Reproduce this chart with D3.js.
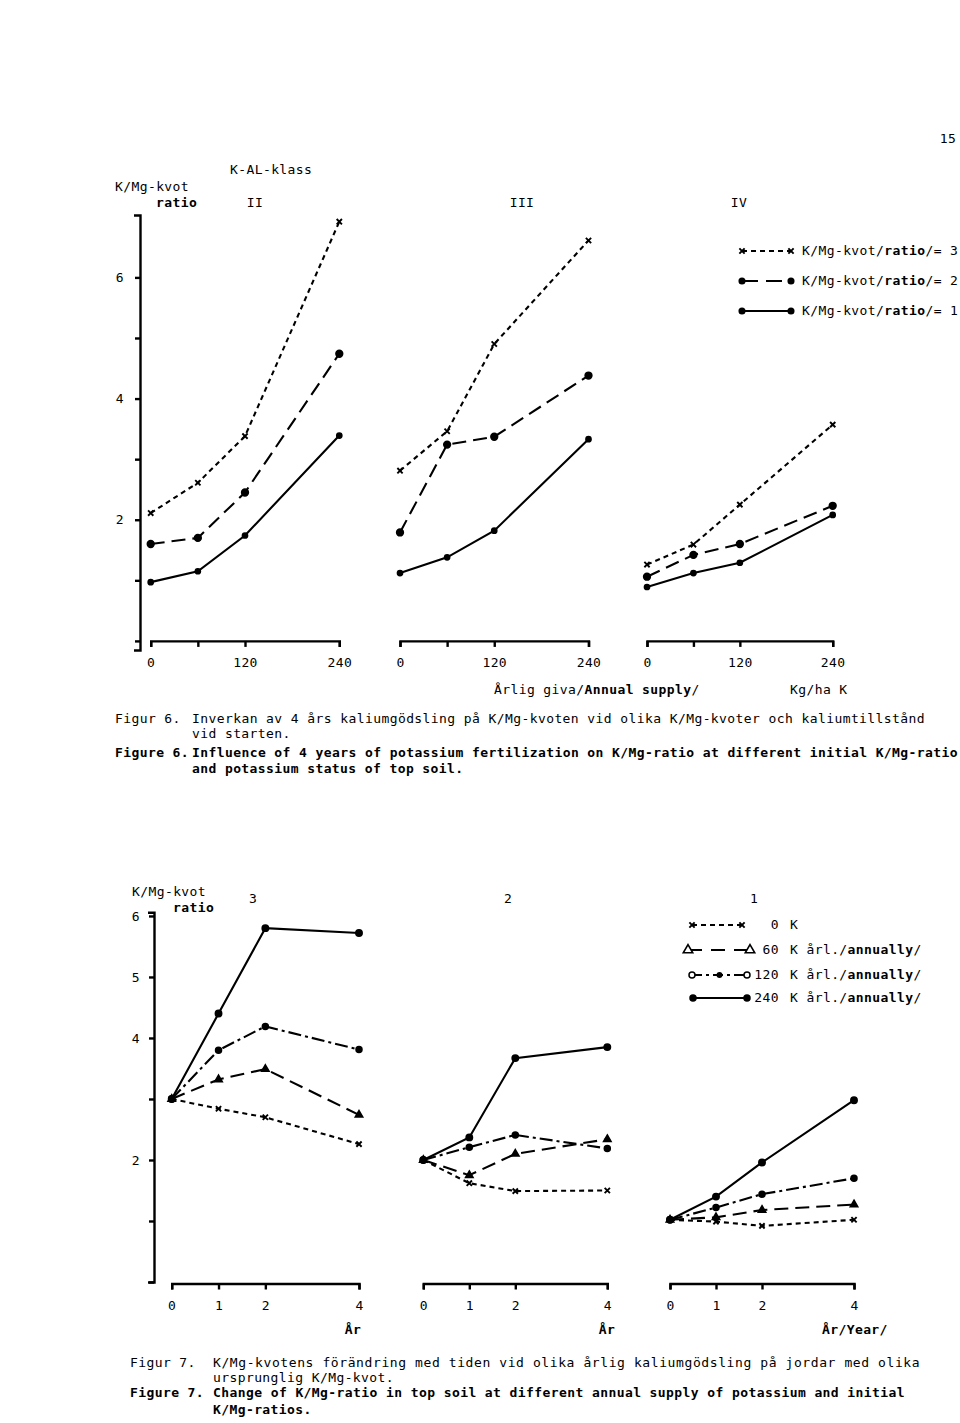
<!DOCTYPE html>
<html>
<head>
<meta charset="utf-8">
<script src="https://cdn.jsdelivr.net/npm/d3@7"></script>
<style>
body { margin: 0; background: #fff; }
text { font-family: "DejaVu Sans Mono", monospace; font-size: 13px; letter-spacing: 0.4px; fill: #000; }
</style>
</head>
<body>
<script>
var w = 960;
var h = 1423;

// Figur 6: K/Mg-kvot after 4 years, per K-AL-klass, x = annual K supply (kg/ha)
var supply = [0, 60, 120, 240];
var supplyLabels = [0, 120, 240];
var klass = ["II", "III", "IV"];
var ratio3 = [[2.11, 2.61, 3.38, 6.92], [2.81, 3.46, 4.90, 6.61], [1.26, 1.59, 2.25, 3.57]];
var ratio2 = [[1.60, 1.70, 2.45, 4.74], [1.79, 3.24, 3.37, 4.38], [1.06, 1.42, 1.60, 2.23]];
var ratio1 = [[0.97, 1.15, 1.74, 3.39], [1.12, 1.38, 1.82, 3.33], [0.89, 1.12, 1.29, 2.08]];
var fig6Ticks = [0, 1, 2, 3, 4, 5, 6];
var fig6TickLabels = [2, 4, 6];

// Figur 7: K/Mg-kvot over time, per initial ratio, per annual K supply
var years = [0, 1, 2, 4];
var startRatio = ["3", "2", "1"];
var k0 = [[3.0, 2.84, 2.70, 2.26], [2.0, 1.62, 1.49, 1.50], [1.02, 0.99, 0.92, 1.02]];
var k60 = [[3.0, 3.32, 3.49, 2.74], [2.0, 1.75, 2.10, 2.34], [1.02, 1.06, 1.18, 1.27]];
var k120 = [[3.0, 3.80, 4.19, 3.81], [2.0, 2.21, 2.41, 2.19], [1.02, 1.22, 1.44, 1.70]];
var k240 = [[3.0, 4.40, 5.80, 5.72], [2.0, 2.37, 3.67, 3.85], [1.02, 1.40, 1.96, 2.98]];
var fig7Ticks = [0, 1, 2, 3, 4, 5, 6];
var fig7TickLabels = [2, 4, 5, 6];

var svg = d3.select("body").append("svg").attr("width", w).attr("height", h);
svg.append("rect").attr("width", w).attr("height", h).attr("fill", "#fff");

// text helper, parts = [[string, bold], ...]
function addText(x, y, parts, anchor) {
  var t = svg.append("text").attr("x", x).attr("y", y).attr("text-anchor", anchor || "start");
  if (typeof parts == "string") parts = [[parts, false]];
  parts.forEach(function(p) {
    t.append("tspan").attr("font-weight", p[1] ? "bold" : null).text(p[0]);
  });
  return t;
}

function marker(g, x, y, kind, r) {
  if (kind == "x") {
    g.append("path").attr("d", d3.symbol(d3.symbolTimes, r * r * 2.2)())
      .attr("transform", "translate(" + x + "," + y + ")")
      .attr("stroke", "#000").attr("stroke-width", 1.9).attr("fill", "none");
  } else if (kind == "tri" || kind == "otri") {
    g.append("path").attr("d", d3.symbol(d3.symbolTriangle, r * r * 3)())
      .attr("transform", "translate(" + x + "," + y + ")")
      .attr("fill", kind == "tri" ? "#000" : "#fff").attr("stroke", "#000").attr("stroke-width", 1.6);
  } else {
    g.append("circle").attr("cx", x).attr("cy", y).attr("r", r)
      .attr("fill", kind == "ring" ? "#fff" : "#000").attr("stroke", "#000").attr("stroke-width", 1.5);
  }
}

function series(g, xs, ys, xv, vals, dash, kind, r) {
  var line = d3.line().x(function(d, i) { return xs(xv[i]); }).y(function(d) { return ys(d); });
  g.append("path").datum(vals).attr("d", line)
    .attr("fill", "none").attr("stroke", "#000").attr("stroke-width", 2.1)
    .attr("stroke-dasharray", dash);
  vals.forEach(function(d, i) { marker(g, xs(xv[i]), ys(d), kind, r); });
}

function styleAxis(g, font, size) {
  g.selectAll(".domain").attr("stroke", "#000").attr("stroke-width", 2.4);
  g.selectAll(".tick line").attr("stroke", "#000").attr("stroke-width", 2.4);
  g.selectAll(".tick text").attr("font-family", font).attr("font-size", size).attr("fill", "#000");
}

// ---------- Figur 6 ----------
var y6 = d3.scaleLinear().domain([-0.15, 7.03]).range([650, 215]);
var x6 = [[150.7, 339.3], [400, 588.5], [647, 832.7]].map(function(r) {
  return d3.scaleLinear().domain([0, 240]).range(r);
});

var gy6 = svg.append("g").attr("transform", "translate(140,0)")
  .call(d3.axisLeft(y6).tickValues(fig6Ticks).tickSize(5).tickSizeOuter(6).tickPadding(11)
    .tickFormat(function(d) { return fig6TickLabels.indexOf(d) >= 0 ? d : ""; }));
styleAxis(gy6, "Liberation Sans, sans-serif", 13);

var f6 = svg.append("g");
klass.forEach(function(k, i) {
  var gx = svg.append("g").attr("transform", "translate(0," + y6(0) + ")")
    .call(d3.axisBottom(x6[i]).tickValues(supply).tickSize(6).tickSizeOuter(6).tickPadding(11)
      .tickFormat(function(d) { return supplyLabels.indexOf(d) >= 0 ? d : ""; }));
  styleAxis(gx, "Liberation Sans, sans-serif", 13);

  series(f6, x6[i], y6, supply, ratio1[i], null, "dot", 2.6);
  series(f6, x6[i], y6, supply, ratio2[i], "14,7", "dot", 3.4);
  series(f6, x6[i], y6, supply, ratio3[i], "5,4", "x", 3);
});

svg.append("text").attr("x", 948).attr("y", 143).attr("text-anchor", "middle")
  .attr("font-family", "Liberation Sans, sans-serif").attr("font-size", 17).attr("letter-spacing", 0).text("15");
addText(230, 174, "K-AL-klass");
addText(115, 191, "K/Mg-kvot");
addText(156, 207, [["ratio", true]]);
addText(255, 207, "II", "middle");
addText(522, 207, "III", "middle");
addText(739, 207, "IV", "middle");

// legend fig 6
var leg6 = [
  { label: "3", dash: "5,4", kind: "x", r: 3, y: 251 },
  { label: "2", dash: "16,8", kind: "dot", r: 2.8, y: 281 },
  { label: "1", dash: null, kind: "dot", r: 2.8, y: 311 }
];
leg6.forEach(function(l) {
  var g = svg.append("g");
  g.append("line").attr("x1", 742).attr("x2", 791).attr("y1", l.y).attr("y2", l.y)
    .attr("stroke", "#000").attr("stroke-width", 2).attr("stroke-dasharray", l.dash);
  marker(g, 742, l.y, l.kind, l.r);
  marker(g, 791, l.y, l.kind, l.r);
  addText(802, l.y + 4, [["K/Mg-kvot/", false], ["ratio", true], ["/= " + l.label, false]]);
});

addText(494, 694, [["Årlig giva/", false], ["Annual supply", true], ["/", false]]);
addText(790, 694, "Kg/ha K").attr("letter-spacing", 0);

addText(115, 723, "Figur 6.");
addText(192, 723, "Inverkan av 4 års kaliumgödsling på K/Mg-kvoten vid olika K/Mg-kvoter och kaliumtillstånd")
  .attr("textLength", 733).attr("lengthAdjust", "spacing");
addText(192, 738, "vid starten.");
addText(115, 757, [["Figure 6.", true]]);
addText(192, 757, [["Influence of 4 years of potassium fertilization on K/Mg-ratio at different initial K/Mg-ratio", true]])
  .attr("textLength", 766).attr("lengthAdjust", "spacing");
addText(192, 773, [["and potassium status of top soil.", true]]);

// ---------- Figur 7 ----------
var y7 = d3.scaleLinear().domain([0, 6.06]).range([1282, 912.3]);
var x7 = [[171.7, 359], [423.3, 607.3], [670, 854]].map(function(r) {
  return d3.scaleLinear().domain([0, 4]).range(r);
});

var gy7 = svg.append("g").attr("transform", "translate(154,0)")
  .call(d3.axisLeft(y7).tickValues(fig7Ticks).tickSize(5).tickSizeOuter(6).tickPadding(9)
    .tickFormat(function(d) { return fig7TickLabels.indexOf(d) >= 0 ? d : ""; }));
styleAxis(gy7, "DejaVu Sans Mono, monospace", 13);

var f7 = svg.append("g");
startRatio.forEach(function(s, i) {
  var gx = svg.append("g").attr("transform", "translate(0," + (y7(0) + 1.5) + ")")
    .call(d3.axisBottom(x7[i]).tickValues(years).tickSize(6).tickSizeOuter(6).tickPadding(11)
      .tickFormat(d3.format("d")));
  styleAxis(gx, "DejaVu Sans Mono, monospace", 13);

  series(f7, x7[i], y7, years, k0[i], "5,4", "x", 3);
  series(f7, x7[i], y7, years, k60[i], "14,7", "tri", 2.8);
  series(f7, x7[i], y7, years, k120[i], "13,4,3,4", "dot", 3);
  series(f7, x7[i], y7, years, k240[i], null, "dot", 3.2);
});

addText(132, 896, "K/Mg-kvot");
addText(173, 912, [["ratio", true]]);
addText(253, 903, "3", "middle");
addText(508, 903, "2", "middle");
addText(754, 903, "1", "middle");

// legend fig 7
var leg7 = [
  { num: "0", rest: null, dash: "5,4", kind: "x", x1: 692, x2: 742, y: 925 },
  { num: "60", rest: true, dash: "14,9", kind: "otri", x1: 688, x2: 750, y: 950 },
  { num: "120", rest: true, dash: "10,4,3,4", kind: "ring", x1: 692, x2: 747, y: 975 },
  { num: "240", rest: true, dash: null, kind: "dot", x1: 693, x2: 747, y: 998 }
];
leg7.forEach(function(l) {
  var g = svg.append("g");
  g.append("line").attr("x1", l.x1).attr("x2", l.x2).attr("y1", l.y).attr("y2", l.y)
    .attr("stroke", "#000").attr("stroke-width", 2).attr("stroke-dasharray", l.dash);
  marker(g, l.x1, l.y, l.kind, l.kind == "otri" ? 3.6 : 3);
  marker(g, l.x2, l.y, l.kind, l.kind == "otri" ? 3.6 : 3);
  if (l.kind == "ring") marker(g, (l.x1 + l.x2) / 2, l.y, "dot", 2.2);
  addText(779, l.y + 4, l.num, "end");
  if (l.rest) addText(790, l.y + 4, [["K årl./", false], ["annually", true], ["/", false]]);
  else addText(790, l.y + 4, "K");
});

addText(353, 1334, [["År", true]], "middle");
addText(607, 1334, [["År", true]], "middle");
addText(822, 1334, [["År/Year/", true]]);

addText(130, 1367, "Figur 7.");
addText(213, 1367, "K/Mg-kvotens förändring med tiden vid olika årlig kaliumgödsling på jordar med olika")
  .attr("textLength", 707).attr("lengthAdjust", "spacing");
addText(213, 1382, "ursprunglig K/Mg-kvot.");
addText(130, 1397, [["Figure 7.", true]]);
addText(213, 1397, [["Change of K/Mg-ratio in top soil at different annual supply of potassium and initial", true]])
  .attr("textLength", 692).attr("lengthAdjust", "spacing");
addText(213, 1414, [["K/Mg-ratios.", true]]);
</script>
</body>
</html>
